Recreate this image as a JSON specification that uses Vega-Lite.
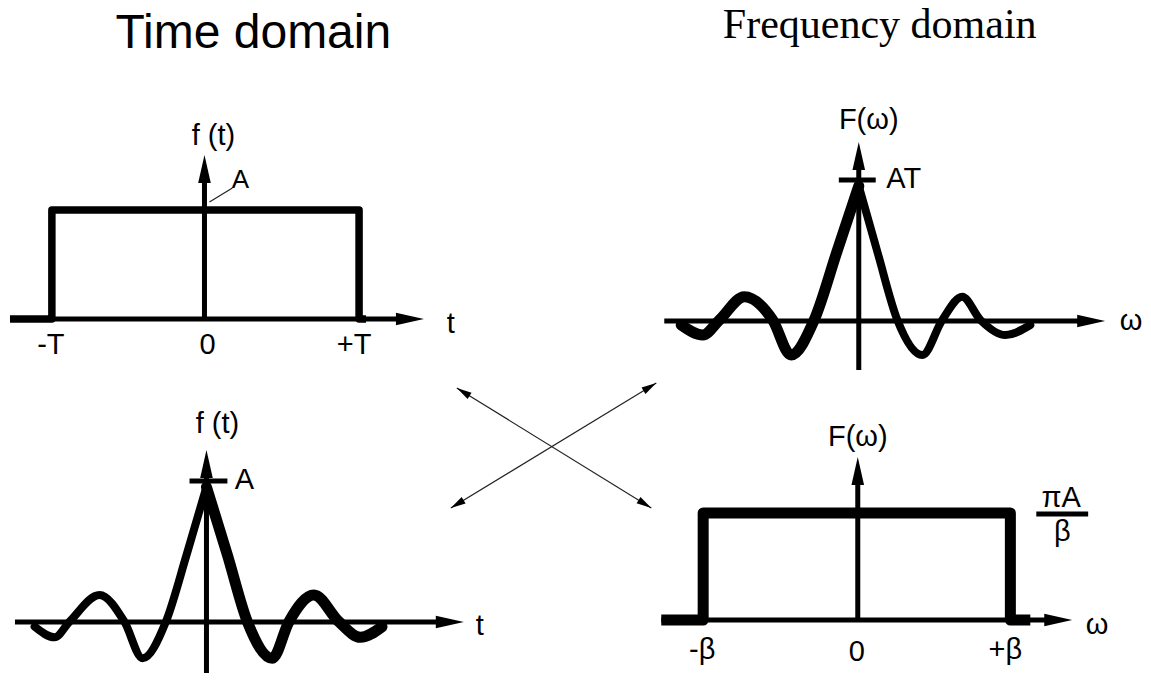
{
  "$schema": "https://vega.github.io/schema/vega-lite/v6.json",
  "width": 1151,
  "height": 685,
  "autosize": {"type": "fit", "contains": "padding"},
  "padding": 0,
  "background": "white",
  "config": {"view": {"stroke": null}},
  "datasets": {
    "axes": [
      {"id": "TLh", "o": 0, "x": 7, "y": 319}, {"id": "TLh", "o": 1, "x": 408, "y": 319},
      {"id": "TLv", "o": 0, "x": 202, "y": 319}, {"id": "TLv", "o": 1, "x": 202, "y": 169},
      {"id": "TRh", "o": 0, "x": 663, "y": 321}, {"id": "TRh", "o": 1, "x": 1091, "y": 321},
      {"id": "TRv", "o": 0, "x": 858, "y": 370}, {"id": "TRv", "o": 1, "x": 858, "y": 156},
      {"id": "BLh", "o": 0, "x": 12, "y": 622}, {"id": "BLh", "o": 1, "x": 448, "y": 622},
      {"id": "BLv", "o": 0, "x": 204, "y": 673}, {"id": "BLv", "o": 1, "x": 204, "y": 464},
      {"id": "BRh", "o": 0, "x": 660, "y": 620}, {"id": "BRh", "o": 1, "x": 1058, "y": 620},
      {"id": "BRv", "o": 0, "x": 857, "y": 620}, {"id": "BRv", "o": 1, "x": 857, "y": 471}
    ],
    "heads": [
      {"x": 408, "y": 319, "dir": 90}, {"x": 202, "y": 169, "dir": 0},
      {"x": 1091, "y": 321, "dir": 90}, {"x": 858, "y": 156, "dir": 0},
      {"x": 448, "y": 622, "dir": 90}, {"x": 204, "y": 464, "dir": 0},
      {"x": 1058, "y": 620, "dir": 90}, {"x": 857, "y": 471, "dir": 0}
    ],
    "smallHeads": [
      {"x": 461.4, "y": 391.9, "dir": 301.6}, {"x": 643.6, "y": 504.1, "dir": 121.6},
      {"x": 648.6, "y": 386.9, "dir": 58.7}, {"x": 455.4, "y": 504.1, "dir": 238.7}
    ],
    "thin": [
      {"id": "a1", "o": 0, "x": 455, "y": 388}, {"id": "a1", "o": 1, "x": 650, "y": 508},
      {"id": "a2", "o": 0, "x": 655, "y": 383}, {"id": "a2", "o": 1, "x": 449, "y": 508},
      {"id": "lead", "o": 0, "x": 207, "y": 202}, {"id": "lead", "o": 1, "x": 230, "y": 188}
    ],
    "bars": [
      {"id": "AT", "o": 0, "x": 838, "y": 180}, {"id": "AT", "o": 1, "x": 875, "y": 180},
      {"id": "A", "o": 0, "x": 187, "y": 481}, {"id": "A", "o": 1, "x": 225, "y": 481},
      {"id": "frac", "o": 0, "x": 1036, "y": 514}, {"id": "frac", "o": 1, "x": 1088, "y": 514}
    ],
    "rectTL": [
      {"o": 0, "x": 7, "y": 319}, {"o": 1, "x": 49, "y": 319}, {"o": 2, "x": 49, "y": 210},
      {"o": 3, "x": 357, "y": 210}, {"o": 4, "x": 357, "y": 319}, {"o": 5, "x": 364, "y": 319}
    ],
    "rectBR": [
      {"o": 0, "x": 660, "y": 620}, {"o": 1, "x": 702, "y": 620}, {"o": 2, "x": 702, "y": 513},
      {"o": 3, "x": 1010, "y": 513}, {"o": 4, "x": 1010, "y": 620}, {"o": 5, "x": 1030, "y": 620}
    ],
    "sincThick": [
      {"id": "TRl", "o": 0, "x": 680, "y": 325}, {"id": "TRl", "o": 1, "x": 701.7, "y": 335},
      {"id": "TRl", "o": 2, "x": 718.3, "y": 320}, {"id": "TRl", "o": 3, "x": 743.3, "y": 296.7},
      {"id": "TRl", "o": 4, "x": 771.7, "y": 320}, {"id": "TRl", "o": 5, "x": 790, "y": 355},
      {"id": "TRl", "o": 6, "x": 813.3, "y": 320}, {"id": "TRl", "o": 7, "x": 836, "y": 252},
      {"id": "TRl", "o": 8, "x": 858, "y": 186},
      {"id": "BLr", "o": 0, "x": 204, "y": 487}, {"id": "BLr", "o": 1, "x": 225, "y": 555},
      {"id": "BLr", "o": 2, "x": 245, "y": 621.7}, {"id": "BLr", "o": 3, "x": 270, "y": 658.3},
      {"id": "BLr", "o": 4, "x": 286.7, "y": 621.7}, {"id": "BLr", "o": 5, "x": 311.7, "y": 595},
      {"id": "BLr", "o": 6, "x": 336.7, "y": 621.7}, {"id": "BLr", "o": 7, "x": 358.3, "y": 637.3},
      {"id": "BLr", "o": 8, "x": 380, "y": 626.7}
    ],
    "sincThin": [
      {"id": "TRr", "o": 0, "x": 858, "y": 186}, {"id": "TRr", "o": 1, "x": 877, "y": 253},
      {"id": "TRr", "o": 2, "x": 896.7, "y": 320}, {"id": "TRr", "o": 3, "x": 921.7, "y": 355},
      {"id": "TRr", "o": 4, "x": 941.7, "y": 320}, {"id": "TRr", "o": 5, "x": 961.7, "y": 296.7},
      {"id": "TRr", "o": 6, "x": 980, "y": 320}, {"id": "TRr", "o": 7, "x": 1005, "y": 335},
      {"id": "TRr", "o": 8, "x": 1030, "y": 325},
      {"id": "BLl", "o": 0, "x": 31.7, "y": 626.7}, {"id": "BLl", "o": 1, "x": 51.7, "y": 637.3},
      {"id": "BLl", "o": 2, "x": 66.7, "y": 621.7}, {"id": "BLl", "o": 3, "x": 96.7, "y": 595},
      {"id": "BLl", "o": 4, "x": 121.7, "y": 621.7}, {"id": "BLl", "o": 5, "x": 140, "y": 658.3},
      {"id": "BLl", "o": 6, "x": 163.3, "y": 621.7}, {"id": "BLl", "o": 7, "x": 184, "y": 555},
      {"id": "BLl", "o": 8, "x": 204, "y": 487}
    ],
    "labels": [
      {"x": 211, "y": 145, "text": "f (t)"},
      {"x": 48, "y": 354, "text": "-T"},
      {"x": 205, "y": 354, "text": "0"},
      {"x": 352, "y": 354, "text": "+T"},
      {"x": 449, "y": 333, "text": "t"},
      {"x": 868, "y": 129, "text": "F(ω)"},
      {"x": 903, "y": 188, "text": "AT"},
      {"x": 1131, "y": 330, "text": "ω"},
      {"x": 215, "y": 433, "text": "f (t)"},
      {"x": 242, "y": 489, "text": "A"},
      {"x": 478, "y": 635, "text": "t"},
      {"x": 857, "y": 446, "text": "F(ω)"},
      {"x": 1061, "y": 507, "text": "πA"},
      {"x": 1062, "y": 541, "text": "β"},
      {"x": 701, "y": 659, "text": "-β"},
      {"x": 856, "y": 661, "text": "0"},
      {"x": 1005, "y": 659, "text": "+β"},
      {"x": 1097, "y": 634, "text": "ω"}
    ],
    "smallLabels": [
      {"x": 238, "y": 188, "text": "A"}
    ],
    "titleSans": [{"x": 251, "y": 48, "text": "Time domain"}],
    "titleSerif": [{"x": 879, "y": 38, "text": "Frequency domain"}]
  },
  "encoding": {
    "x": {"field": "x", "type": "quantitative", "scale": {"domain": [0, 1151], "nice": false, "zero": false}, "axis": null},
    "y": {"field": "y", "type": "quantitative", "scale": {"domain": [0, 685], "reverse": true, "nice": false, "zero": false}, "axis": null}
  },
  "layer": [
    {"data": {"name": "thin"}, "mark": {"type": "line", "color": "#222", "strokeWidth": 1.2},
     "encoding": {"detail": {"field": "id"}, "order": {"field": "o"}}},
    {"data": {"name": "axes"}, "mark": {"type": "line", "color": "black", "strokeWidth": 5},
     "encoding": {"detail": {"field": "id"}, "order": {"field": "o"}}},
    {"data": {"name": "rectTL"}, "mark": {"type": "line", "color": "black", "strokeWidth": 7.5, "strokeJoin": "round"},
     "encoding": {"order": {"field": "o"}}},
    {"data": {"name": "rectBR"}, "mark": {"type": "line", "color": "black", "strokeWidth": 11, "strokeJoin": "round"},
     "encoding": {"order": {"field": "o"}}},
    {"data": {"name": "sincThick"}, "mark": {"type": "line", "color": "black", "strokeWidth": 11, "interpolate": "monotone", "strokeCap": "round"},
     "encoding": {"detail": {"field": "id"}, "order": {"field": "o"}}},
    {"data": {"name": "sincThin"}, "mark": {"type": "line", "color": "black", "strokeWidth": 8, "interpolate": "monotone", "strokeCap": "round"},
     "encoding": {"detail": {"field": "id"}, "order": {"field": "o"}}},
    {"data": {"name": "bars"}, "mark": {"type": "line", "color": "black", "strokeWidth": 5},
     "encoding": {"detail": {"field": "id"}, "order": {"field": "o"}}},
    {"data": {"name": "heads"}, "mark": {"type": "point", "shape": "M0,-1L0.45,1L-0.45,1Z", "filled": true, "color": "black", "opacity": 1, "size": 784, "strokeWidth": 0},
     "encoding": {"angle": {"field": "dir", "type": "quantitative", "scale": null}}},
    {"data": {"name": "smallHeads"}, "mark": {"type": "point", "shape": "M0,-1L0.5,1L-0.5,1Z", "filled": true, "color": "black", "opacity": 1, "size": 225, "strokeWidth": 0},
     "encoding": {"angle": {"field": "dir", "type": "quantitative", "scale": null}}},
    {"data": {"name": "labels"}, "mark": {"type": "text", "font": "Liberation Sans", "fontSize": 29, "align": "center", "baseline": "alphabetic", "color": "black"},
     "encoding": {"text": {"field": "text"}}},
    {"data": {"name": "smallLabels"}, "mark": {"type": "text", "font": "Liberation Sans", "fontSize": 26, "align": "center", "baseline": "alphabetic", "color": "black"},
     "encoding": {"text": {"field": "text"}}},
    {"data": {"name": "titleSans"}, "mark": {"type": "text", "font": "Liberation Sans", "fontSize": 48, "align": "center", "baseline": "alphabetic", "color": "black"},
     "encoding": {"text": {"field": "text"}}},
    {"data": {"name": "titleSerif"}, "mark": {"type": "text", "font": "Liberation Serif", "fontSize": 42, "align": "center", "baseline": "alphabetic", "color": "black"},
     "encoding": {"text": {"field": "text"}}}
  ]
}
